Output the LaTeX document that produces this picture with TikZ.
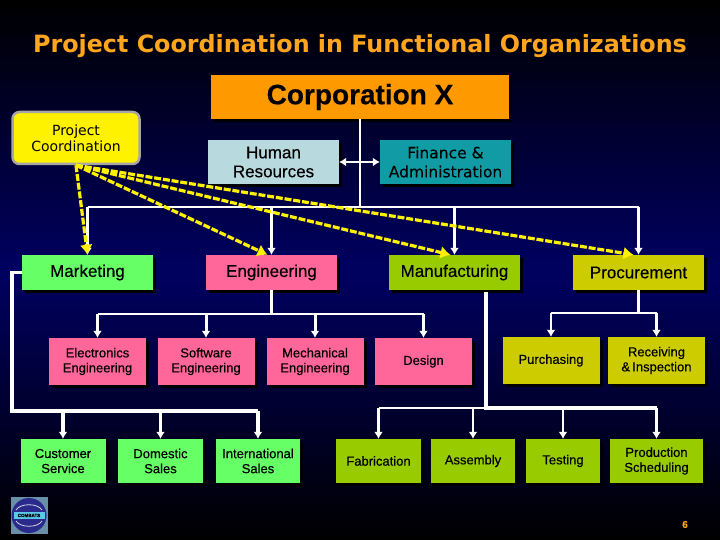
\documentclass[tikz,border=0pt]{standalone}
\usepackage{fontspec}
\setmainfont[FakeBold=0.35]{Liberation Sans}
\newfontfamily\widefont[FakeBold=0.15]{DejaVu Sans}
\newfontfamily\titlefont{DejaVu Sans}
\usetikzlibrary{shadows,arrows.meta}
\definecolor{orangebox}{HTML}{FF9900}
\definecolor{paleblue}{HTML}{B8DADF}
\definecolor{tealbox}{HTML}{109BA5}
\definecolor{greenbox}{HTML}{66FF66}
\definecolor{pinkbox}{HTML}{FF6699}
\definecolor{limebox}{HTML}{99CC00}
\definecolor{olivebox}{HTML}{CCCC00}
\definecolor{titlecol}{HTML}{FFA51E}
\definecolor{logoback}{HTML}{6A8FA8}
\definecolor{logodisc}{HTML}{2A2A8C}
\definecolor{logobadge}{HTML}{5CC8E8}
\tikzset{
  unitbox/.style={rectangle, inner sep=0pt, align=center, text=black,
    drop shadow={shadow xshift=3pt, shadow yshift=-3pt, fill=black, opacity=1}},
  headbox/.style={unitbox, minimum width=131pt, minimum height=35pt, font=\fontsize{17}{20}\selectfont},
  staffbox/.style={unitbox, minimum width=131pt, minimum height=44pt, font=\fontsize{17}{19}\selectfont},
  subbox/.style={unitbox, minimum width=97pt, minimum height=47pt, font=\fontsize{13}{15}\selectfont},
  lowbox/.style={unitbox, minimum height=44pt, font=\fontsize{13}{15}\selectfont},
  link/.style={draw=white, line width=2.2pt},
  boldlink/.style={draw=white, line width=3.2pt},
  linkto/.style={link, -{Latex[length=7pt,width=9pt]}},
  liaison/.style={draw=yellow, line width=3.2pt, dash pattern=on 7pt off 1.8pt, -{Latex[length=10pt,width=13pt]}}
}
\begin{document}
\begin{tikzpicture}[x=1pt, y=-1pt]
  % 1. Background and title
  \shade[top color=black, bottom color=black, middle color=blue!38!black] (0,0) rectangle (720,540);
  \useasboundingbox (0,0) rectangle (720,540);
  \node (title) at (360,46) {\fontsize{23.8}{26}\selectfont\titlefont\bfseries\textcolor{titlecol}{Project Coordination in Functional Organizations}};

  % 2. Top of the chart
  \node[unitbox, fill=orangebox, minimum width=298pt, minimum height=44pt, font=\fontsize{28}{30}\selectfont\bfseries] (corp) at (360,97) {Corporation X};
  \node[rectangle, rounded corners=7pt, draw=gray!70, line width=2.5pt, fill=yellow, minimum width=127pt, minimum height=52pt, align=center, inner sep=0pt, font=\fontsize{14}{16}\selectfont\titlefont] (coord) at (76,138) {Project\\Coordination};
  \node[staffbox, fill=paleblue] (hr) at (273.5,162) {Human\\Resources};
  \node[staffbox, fill=tealbox, font=\fontsize{15.5}{19}\selectfont\widefont] (finance) at (445.5,162) {Finance \&\\Administration};

  % 3. Functional heads
  \node[headbox, fill=greenbox] (mkt) at (87.5,272.5) {Marketing};
  \node[headbox, fill=pinkbox] (eng) at (271.5,272.5) {Engineering};
  \node[headbox, fill=limebox] (mfg) at (454.5,272.5) {Manufacturing};
  \node[headbox, fill=olivebox] (proc) at (638.5,272.5) {Procurement};

  % 4. Engineering and procurement units
  \node[subbox, fill=pinkbox] (elec) at (97.5,361.5) {Electronics\\Engineering};
  \node[subbox, fill=pinkbox] (soft) at (206,361.5) {Software\\Engineering};
  \node[subbox, fill=pinkbox] (mech) at (315,361.5) {Mechanical\\Engineering};
  \node[subbox, fill=pinkbox] (design) at (423.5,361.5) {Design};
  \node[subbox, fill=olivebox] (purch) at (551,360.5) {Purchasing};
  \node[subbox, fill=olivebox] (recv) at (656.5,360.5) {Receiving\\\&\,Inspection};

  % 5. Bottom row
  \node[lowbox, fill=greenbox, minimum width=85pt] (cust) at (63,461) {Customer\\Service};
  \node[lowbox, fill=greenbox, minimum width=85pt] (dom) at (160.5,461) {Domestic\\Sales};
  \node[lowbox, fill=greenbox, minimum width=84pt] (intl) at (258,461) {International\\Sales};
  \node[lowbox, fill=limebox, minimum width=85pt] (fab) at (378.5,461) {Fabrication};
  \node[lowbox, fill=limebox, minimum width=84pt] (asm) at (473,461) {Assembly};
  \node[lowbox, fill=limebox, minimum width=74pt] (test) at (563,461) {Testing};
  \node[lowbox, fill=limebox, minimum width=93pt] (prod) at (656.5,461) {Production\\Scheduling};

  % 6. Bars
  \coordinate (topbar) at (360,207);
  \coordinate (staffbar) at (360,162);
  \coordinate (mktside) at (12,272.5);
  \coordinate (mktbar) at (12,411);
  \coordinate (engbar) at (271.5,314);
  \coordinate (mfgbar) at (486,408);
  \coordinate (mfgtop) at (486,292);
  \coordinate (procbar) at (638.5,313);

  % 7. White connectors
  \draw[link] (corp.south) -- (topbar);
  \draw[linkto] (staffbar) -- (hr.east);
  \draw[linkto] (staffbar) -- (finance.west);
  \draw[link] (topbar -| mkt.north) -- (topbar -| proc.north);
  \foreach \unit in {mkt,eng,mfg,proc}
    \draw[linkto] (topbar -| \unit.north) -- (\unit.north);
  \draw[boldlink] (mkt.west) -- (mktside) -- (mktbar) -- (mktbar -| intl.north);
  \foreach \unit in {cust,dom,intl}
    \draw[linkto, line width=3.2pt] (mktbar -| \unit.north) -- (\unit.north);
  \draw[link] (eng.south) -- (engbar);
  \draw[link] (engbar -| elec.north) -- (engbar -| design.north);
  \foreach \unit in {elec,soft,mech,design}
    \draw[linkto, line width=3pt] (engbar -| \unit.north) -- (\unit.north);
  \draw[boldlink] (mfgtop) -- (mfgbar) -- (mfgbar -| prod.north);
  \draw[link] (mfgbar) -- (mfgbar -| fab.north);
  \foreach \unit in {fab,asm,test,prod}
    \draw[linkto, line width=2.6pt] (mfgbar -| \unit.north) -- (\unit.north);
  \draw[boldlink] (proc.south) -- (procbar);
  \draw[link] (procbar -| purch.north) -- (procbar -| recv.north);
  \foreach \unit in {purch,recv}
    \draw[linkto, line width=2.6pt] (procbar -| \unit.north) -- (\unit.north);

  % 8. Yellow liaison lines
  \foreach \unit/\shift in {mkt/0,eng/-4,mfg/-4,proc/-5}
    \draw[liaison] (coord.south) -- ([xshift=\shift pt]\unit.north);

  % 9. Logo and page number
  \node[rectangle, fill=logoback, minimum size=37pt, inner sep=0pt] (logo) at (29,515.5) {};
  \node[circle, fill=logodisc, minimum size=35pt, inner sep=0pt] (disc) at (logo) {};
  \draw[white!80!logodisc, line width=0.8pt] (16,510) .. controls (20,503) and (38,503) .. (42,510);
  \draw[white!80!logodisc, line width=0.8pt] (16,521) .. controls (20,528) and (38,528) .. (42,521);
  \node[rectangle, fill=logobadge, minimum width=31pt, minimum height=7pt, inner sep=0pt, font=\fontsize{4.5}{5}\selectfont\bfseries] (badge) at (logo) {COMBATS};
  \node[text=titlecol, font=\fontsize{10}{11}\selectfont\bfseries] (page) at (685,524.5) {6};
\end{tikzpicture}
\end{document}
